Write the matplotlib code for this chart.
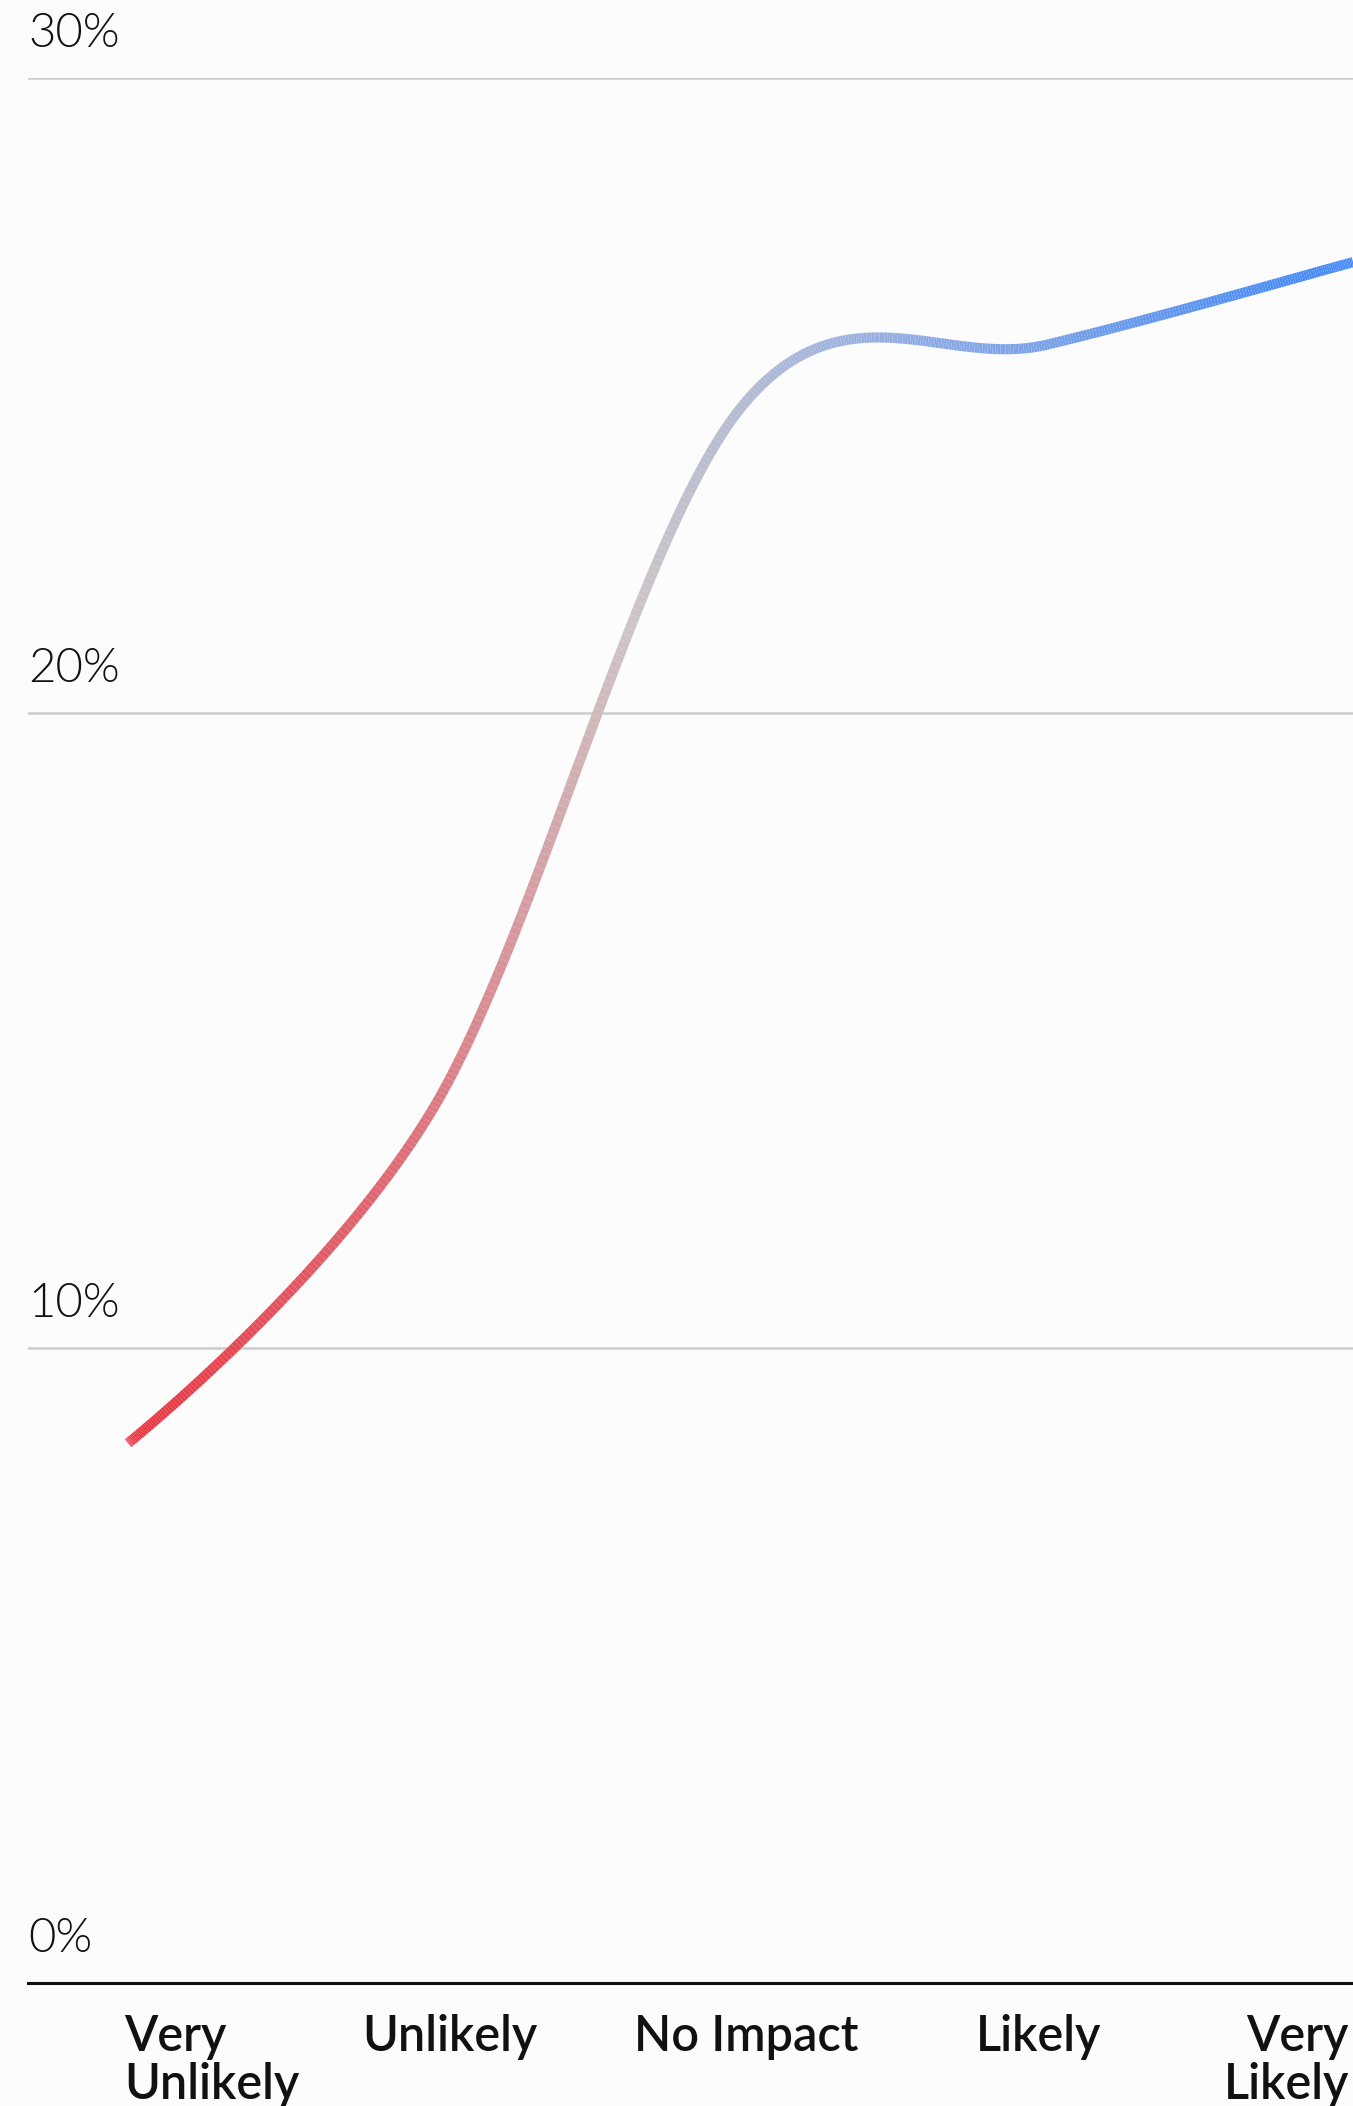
import numpy as np
import matplotlib.pyplot as plt
from matplotlib.collections import LineCollection
from matplotlib.colors import LinearSegmentedColormap

# respuestas y porcentaje de cada una
categorias = ["Very\nUnlikely", "Unlikely", "No Impact", "Likely", "Very\nLikely"]
porcentajes = [8.5, 13.8, 24.8, 25.8, 27.1]
marcas_y = [0, 10, 20, 30]

fondo = "#fcfcfc"
fig = plt.figure(figsize=(13.53, 21.06), dpi=100, facecolor=fondo)
ax = fig.add_axes([28 / 1353, 123 / 2106, 1325 / 1353, 1905 / 2106])
ax.set_facecolor(fondo)

x = np.arange(len(porcentajes))
ax.set_xlim(-100 / 306.25, len(porcentajes) - 1)
ax.set_ylim(0, 30)

# curva catmull-rom (alpha 0) calculada en pixeles
pts = ax.transData.transform(np.column_stack([x, porcentajes]))
alpha = 0.0
n = len(pts)
u = np.linspace(0, 1, 120)[:, None]
curva = []
for i in range(n - 1):
    p1, p2 = pts[i], pts[i + 1]
    l12 = np.hypot(*(p2 - p1)) ** alpha
    c1 = p1.copy()
    if i > 0:
        p0 = pts[i - 1]
        l01 = np.hypot(*(p1 - p0)) ** alpha
        a = 2 * l01 ** 2 + 3 * l01 * l12 + l12 ** 2
        c1 = (p1 * a - p0 * l12 ** 2 + p2 * l01 ** 2) / (3 * l01 * (l01 + l12))
    if i < n - 2:
        p3 = pts[i + 2]
        l23 = np.hypot(*(p3 - p2)) ** alpha
    else:
        p3, l23 = p2, l12
    b = 2 * l23 ** 2 + 3 * l23 * l12 + l12 ** 2
    c2 = (p2 * b + p1 * l23 ** 2 - p3 * l12 ** 2) / (3 * l23 * (l23 + l12))
    seg = (1 - u) ** 3 * p1 + 3 * (1 - u) ** 2 * u * c1 + 3 * (1 - u) * u ** 2 * c2 + u ** 3 * p2
    curva.append(seg if i == 0 else seg[1:])
curva = ax.transData.inverted().transform(np.vstack(curva))

# degradado de rojo a azul a lo largo del eje x
cmap = LinearSegmentedColormap.from_list("rojo_azul", [
    (0.0, (232 / 255, 52 / 255, 64 / 255)),
    (0.22, (222 / 255, 108 / 255, 118 / 255)),
    (0.41, (205 / 255, 197 / 255, 199 / 255)),
    (0.61, (150 / 255, 175 / 255, 225 / 255)),
    (1.0, (66 / 255, 136 / 255, 245 / 255)),
])
segs = np.stack([curva[:-1], curva[1:]], axis=1)
colores = cmap((segs[:, :, 0].mean(axis=1) - x[0]) / (x[-1] - x[0]))
lc = LineCollection(segs, colors=colores, linewidths=7.3, capstyle="butt",
                    joinstyle="round", zorder=3)
ax.add_collection(lc)

# lineas de referencia
for v in marcas_y[1:]:
    ax.axhline(v, color="#cccccc", linewidth=1.8, zorder=1)
ax.axhline(0, color="#111111", linewidth=2.2, zorder=2, clip_on=False)

for v in marcas_y:
    ax.annotate(f"{v}%", xy=(0, v), xycoords=("axes fraction", "data"),
                xytext=(0, 22), textcoords="offset points", ha="left", va="baseline",
                fontsize=34, family=["Lato", "DejaVu Sans"], fontweight=300,
                color="#111111", annotation_clip=False)

# etiquetas del eje x: extremos alineados al borde, el resto centradas
alineacion = ["left", "center", "center", "center", "right"]
desplaz = [-3, 11, 4, -6, -3]
for i, nombre in enumerate(categorias):
    ax.annotate(nombre, xy=(x[i], 0), xycoords=("data", "axes fraction"),
                xytext=(desplaz[i], -22), textcoords="offset points",
                ha=alineacion[i], va="top",
                fontsize=35, family=["Lato", "DejaVu Sans"], fontweight="semibold",
                linespacing=1.06, color="#111111", annotation_clip=False)

ax.set_xticks([])
ax.set_yticks([])
for lado in ax.spines.values():
    lado.set_visible(False)

fig.savefig("out.png", dpi=100, facecolor=fondo)
